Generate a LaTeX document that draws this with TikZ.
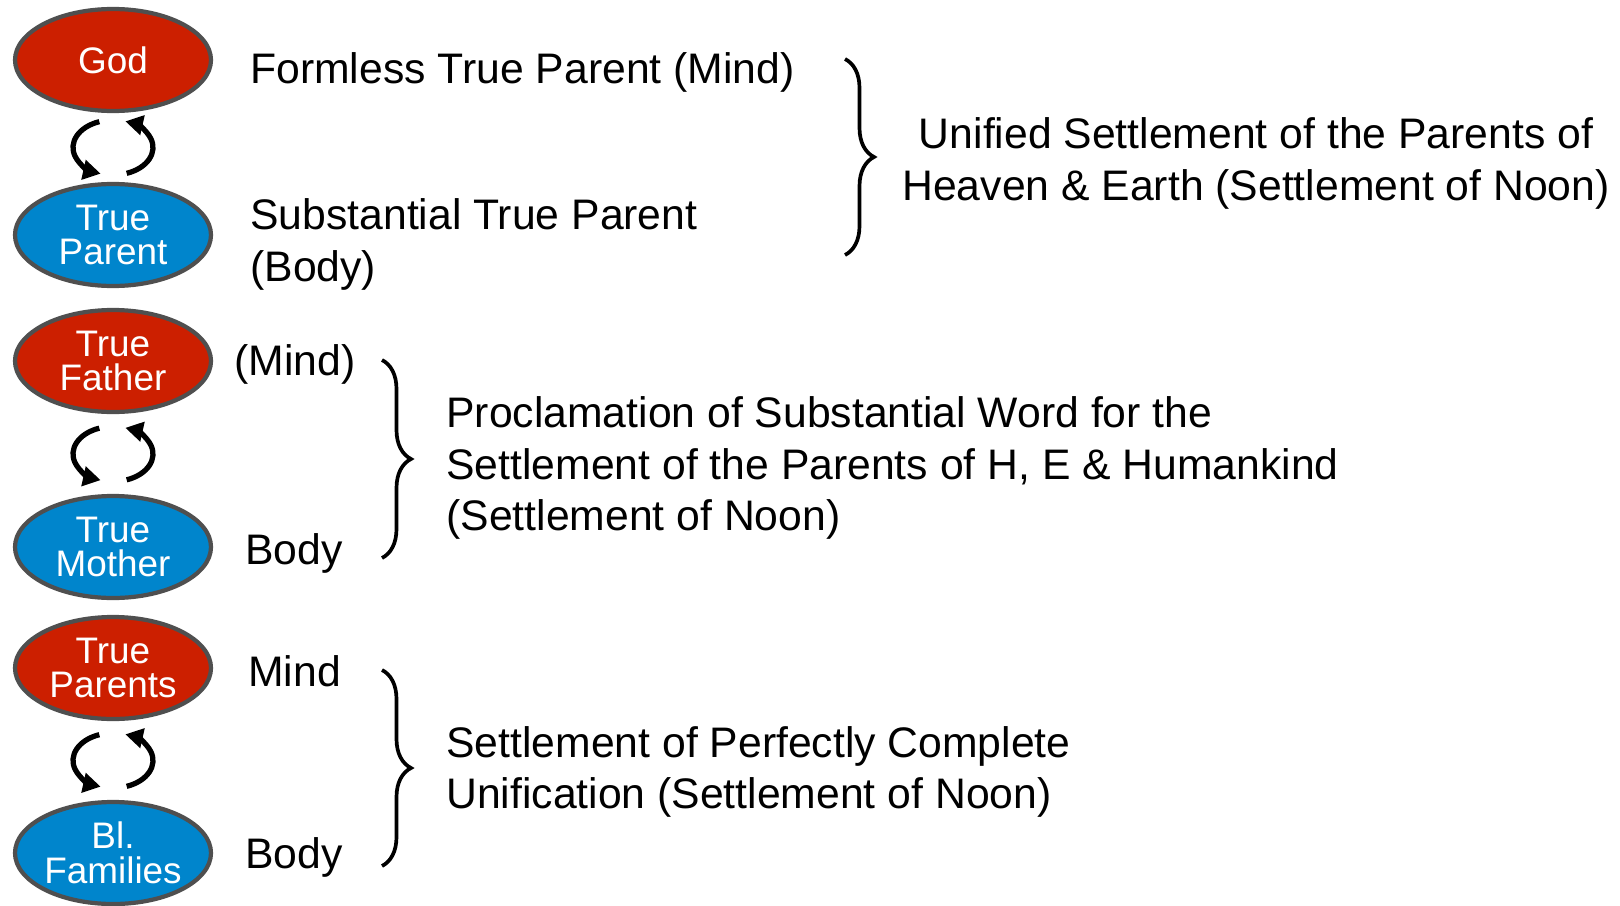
\documentclass[tikz,border=0pt]{standalone}
\usepackage{fontspec}
\setmainfont{Liberation Sans}
\usetikzlibrary{calc,shapes.geometric,decorations.pathreplacing,arrows.meta}
\definecolor{mindred}{HTML}{CC1F00}
\definecolor{bodyblue}{HTML}{0085CC}
\definecolor{rimgray}{HTML}{4F4F4F}

\begin{document}
\begin{tikzpicture}[x=1cm, y=1cm, font=\fontsize{24.3}{29.3}\selectfont,
  oval/.style={ellipse, draw=rimgray, line width=2.4pt, minimum width=3.92cm,
               minimum height=2.04cm, inner sep=0pt, text=white, align=center,
               font=\fontsize{21}{19.8}\selectfont},
  mind/.style={oval, fill=mindred},
  body/.style={oval, fill=bodyblue},
  note/.style={anchor=west, inner sep=0pt, align=left},
  cyc/.style={-{Triangle[length=10pt, width=11pt]}, line width=3pt},
  curly/.style={decorate, decoration={brace, amplitude=0.58cm}, line width=2.1pt}]
  \useasboundingbox (0,0) rectangle (32.4,-18.1);

  % left column: mind over body
  \node[mind] (god) at (2.26,-1.20) {God};
  \node[body] (tparent) at (2.26,-4.70) {True\\Parent};
  \node[mind] (tfather) at (2.26,-7.22) {True\\Father};
  \node[body] (tmother) at (2.26,-10.94) {True\\Mother};
  \node[mind] (tparents) at (2.26,-13.36) {True\\Parents};
  \node[body] (blfam) at (2.26,-17.06) {Bl.\\Families};

  % give and take between each pair
  \foreach \a/\b in {god/tparent, tfather/tmother, tparents/blfam} {
    \coordinate (mid) at ($(\a.south)!0.5!(\b.north)$);
    \draw[cyc] ($(mid)+(110:0.8cm and 0.55cm)$)
      arc[start angle=110, end angle=252, x radius=0.8cm, y radius=0.55cm];
    \draw[cyc] ($(mid)+(-70:0.8cm and 0.55cm)$)
      arc[start angle=-70, end angle=72, x radius=0.8cm, y radius=0.55cm];
  }

  % labels beside the ovals
  \node[note] (formless) at (5.0,-1.44) {Formless True Parent (Mind)};
  \node[note] (subst) at (5.0,-4.89) {Substantial True Parent\\(Body)};
  \node[note] (mindA) at (4.68,-7.28) {(Mind)};
  \node[note] (bodyA) at (4.90,-11.06) {Body};
  \node[note] (mindB) at (4.96,-13.42) {Mind};
  \node[note] (bodyB) at (4.90,-17.14) {Body};

  % braces
  \coordinate (b1top) at (16.90,-1.18);
  \coordinate (b1bot) at (16.90,-5.10);
  \coordinate (b2top) at (7.64,-7.20);
  \coordinate (b2bot) at (7.64,-11.16);
  \coordinate (b3top) at (7.64,-13.40);
  \coordinate (b3bot) at (7.64,-17.32);
  \draw[curly] (b1top) -- (b1bot);
  \draw[curly] (b2top) -- (b2bot);
  \draw[curly] (b3top) -- (b3bot);

  \node[align=center, inner sep=0pt] (unified) at (25.12,-3.27)
    {Unified Settlement of the Parents of\\Heaven \& Earth (Settlement of Noon)};
  \node[note] (proclaim) at (8.92,-9.36)
    {Proclamation of Substantial Word for the\\
     Settlement of the Parents of H, E \& Humankind\\
     (Settlement of Noon)};
  \node[note] (perfect) at (8.92,-15.44)
    {Settlement of Perfectly Complete\\Unification (Settlement of Noon)};
\end{tikzpicture}
\end{document}
